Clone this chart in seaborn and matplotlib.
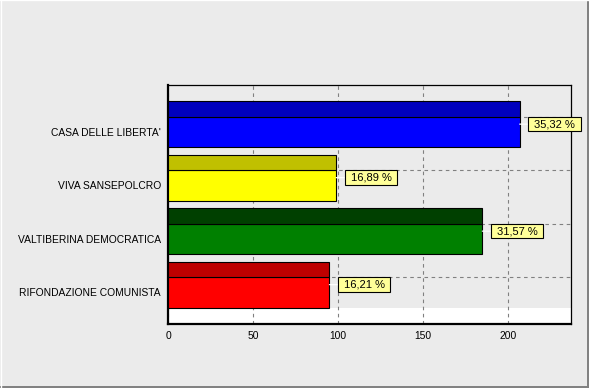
import numpy as np
import matplotlib
matplotlib.use("Agg")
import matplotlib.pyplot as plt
from matplotlib.path import Path
from matplotlib.lines import Line2D
import seaborn as sns

parties = ["CASA DELLE LIBERTA'", "VIVA SANSEPOLCRO", "VALTIBERINA DEMOCRATICA", "RIFONDAZIONE COMUNISTA"]
votes = [207, 99, 185, 95]
percents = [35.32, 16.89, 31.57, 16.21]
front_colors = ["#0000FF", "#FFFF00", "#008000", "#FF0000"]
top_colors = ["#0000BE", "#C0C000", "#004000", "#BE0000"]
x_ticks = [0, 50, 100, 150, 200]

BG = "#EBEBEB"
sns.set_theme(style="white")
plt.rcParams["font.family"] = ["Liberation Sans", "DejaVu Sans"]
plt.rcParams["font.size"] = 7.4

fig = plt.figure(figsize=(5.89, 3.88), dpi=100, facecolor=BG)
ax = fig.add_axes([168 / 589, 64 / 388, 403 / 589, 239 / 388])
ax.set_facecolor(BG)

front_h = 0.572
top_h = 0.293
pos = np.arange(len(parties))

sns.barplot(x=votes, y=parties, hue=parties, palette=front_colors, orient="h",
            width=front_h, edgecolor="black", linewidth=0.8, legend=False,
            ax=ax, zorder=3, saturation=1)
ax.barh(pos - front_h / 2 - top_h / 2, votes, height=top_h, color=top_colors,
        edgecolor="black", linewidth=0.8, zorder=3)

ylo, yhi = 3.589, -0.878
ax.set_ylim(ylo, yhi)
ax.set_xlim(0, 237.2)
ax.axhspan(pos[-1] + front_h / 2, ylo, color="white", zorder=0.1, lw=0)

ax.set_axisbelow(True)
ax.set_xticks(x_ticks)
ax.set_xticks(np.arange(0, 237, 12.5), minor=True)
ax.set_yticks(pos)
ax.set_yticklabels(parties)
ax.set_yticks(list(pos - front_h / 2), minor=True)
dash = (0, (3.2, 3.2))
ax.xaxis.grid(True, which="major", linestyle=dash, color="#808080", lw=0.8)
ax.yaxis.grid(False, which="major")
ax.yaxis.grid(True, which="minor", linestyle=dash, color="#808080", lw=0.8)
ax.tick_params(axis="both", which="both", direction="out", length=2.2, width=0.6,
               color="#404040", labelsize=7.4, labelcolor="black")
ax.tick_params(axis="y", which="both", pad=3)
ax.tick_params(axis="x", which="major", pad=3)
ax.set_xlabel("")
ax.set_ylabel("")

for side, lw in [("left", 1.6), ("bottom", 1.6), ("top", 0.9), ("right", 0.9)]:
    ax.spines[side].set_visible(True)
    ax.spines[side].set_color("black")
    ax.spines[side].set_linewidth(lw)


def label_box(x0, y0, width, height, mutation_size):
    px = 0.52 * mutation_size
    py = 0.2 * mutation_size
    verts = [(x0 - px, y0 - py), (x0 + width + px, y0 - py),
             (x0 + width + px, y0 + height + py), (x0 - px, y0 + height + py),
             (x0 - px, y0 - py)]
    return Path(verts, closed=True)


for i, (v, p) in enumerate(zip(votes, percents)):
    txt = f"{p:.2f} %".replace(".", ",")
    ax.annotate(txt, xy=(v, i - top_h / 2),
                xytext=(10.3, 0), textcoords="offset points",
                ha="left", va="center", fontsize=8, color="black", zorder=5,
                bbox=dict(boxstyle=label_box, fc="#FFFF99", ec="black", lw=0.8),
                arrowprops=dict(arrowstyle="-", color="white", lw=0.9,
                                shrinkA=0, shrinkB=0))

# figure border
fig.add_artist(Line2D([0.9985, 0.9985], [0, 1], transform=fig.transFigure, color="#808080", lw=1.4))
fig.add_artist(Line2D([0, 1], [0.002, 0.002], transform=fig.transFigure, color="#808080", lw=1.4))
fig.add_artist(Line2D([0.001, 0.001], [0, 1], transform=fig.transFigure, color="white", lw=1))
fig.add_artist(Line2D([0, 1], [0.999, 0.999], transform=fig.transFigure, color="white", lw=1))

fig.savefig("out.png", dpi=100, facecolor=BG)
